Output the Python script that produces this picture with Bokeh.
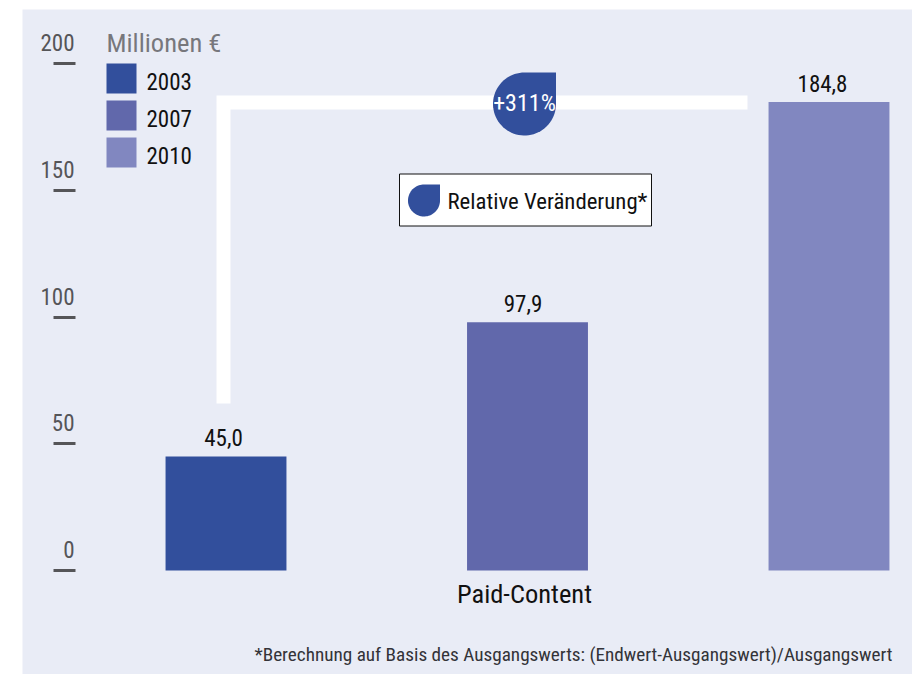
from bokeh.plotting import figure
from bokeh.models import Range1d, FixedTicker, ColumnDataSource
from bokeh.core.properties import value
from bokeh.embed import file_html
from bokeh.resources import INLINE
import numpy as np

# ---- data
years = ["2003", "2007", "2010"]
values = [45.0, 97.9, 184.8]
value_labels = ["45,0", "97,9", "184,8"]
colors = ["#324f9c", "#6168ab", "#8187c0"]
y_ticks = [0, 50, 100, 150, 200]
y_tick_labels = ["0", "50", "100", "150", "200"]
category = "Paid-Content"
change_label = "+311%"
change_key = "Relative Veränderung*"
unit_label = "Millionen €"
footnote = "*Berechnung auf Basis des Ausgangswerts: (Endwert-Ausgangswert)/Ausgangswert"

# ---- layout (page pixels -> data)
FONT = "Roboto Condensed"
PANEL = "#e9ecf6"
X0, XSTEP, Y0, YSCALE = 225.5, 301.5, 570.0, 2.535
def dx(px): return (np.asarray(px, dtype=float) - X0) / XSTEP
def dy(py): return (Y0 - np.asarray(py, dtype=float)) / YSCALE

FIG_L, FIG_T, FIG_R, FIG_B = 22, 9, 912, 674

p = figure(width=FIG_R - FIG_L, height=FIG_B - FIG_T, output_backend="svg", toolbar_location=None,
           x_range=Range1d(float(dx(FIG_L)), float(dx(FIG_R))),
           y_range=Range1d(float(dy(FIG_B)), float(dy(FIG_T))),
           min_border_left=0, min_border_right=0, min_border_top=0, min_border_bottom=0,
           margin=(FIG_T, 0, 0, FIG_L))
p.background_fill_color = PANEL
p.border_fill_color = PANEL
p.outline_line_color = None
p.grid.visible = False

# y axis inside the panel: ticks outward; labels placed on top of the ticks below
ya = p.yaxis[0]
ya.fixed_location = float(dx(75))
ya.ticker = FixedTicker(ticks=y_ticks)
ya.axis_line_color = None
ya.major_tick_out = 22
ya.major_tick_in = 0
ya.major_tick_line_width = 3
ya.major_tick_line_color = "#555558"
ya.minor_tick_line_color = None
ya.major_label_overrides = {t: "" for t in y_ticks}

# x axis inside the panel: the single category
CATEGORY_X = 0.99
xa = p.xaxis[0]
xa.fixed_location = 0
xa.ticker = FixedTicker(ticks=[CATEGORY_X])
xa.major_label_overrides = {CATEGORY_X: category}
xa.axis_line_color = None
xa.major_tick_line_color = None
xa.minor_tick_line_color = None
xa.major_label_standoff = 1
xa.major_label_text_font = FONT
xa.major_label_text_font_size = "26.5px"
xa.major_label_text_color = "#111111"

# tick labels
tick_src = ColumnDataSource(dict(x=[float(dx(74))] * len(y_ticks), y=y_ticks, t=y_tick_labels))
p.text("x", "y", text="t", source=tick_src, y_offset=-21, text_align="right", text_baseline="alphabetic",
       text_font=value(FONT), text_font_size="23px", text_color="#555558")

# white connector from first to last bar
p.line(dx([223, 223, 747]), dy([403, 102, 102]), line_color="white", line_width=14, line_join="miter")

# bars
for i, (v, c) in enumerate(zip(values, colors)):
    p.vbar(x=[i], top=[v], bottom=0, width=0.401, fill_color=c, line_color=None)

# value labels
src = ColumnDataSource(dict(x=[0, 1, 2], y=values, t=value_labels, off=[-2.5, -4.5, -6.5]))
p.text("x", "y", text="t", source=src, x_offset="off", y_offset=-19, text_align="center", text_baseline="alphabetic",
       text_font=value(FONT), text_font_size="23px", text_color="#111111")

# drop shapes
def drop(cx, cy, r):
    a = np.radians(np.linspace(0, 270, 60))
    xs = list(cx + r * np.cos(a)) + [cx + r, cx + r]
    ys = list(cy + r * np.sin(a)) + [cy - r, cy]
    return dx(xs), dy(ys)

x1, y1 = drop(524, 103.5, 31.5)
p.patch(x1, y1, fill_color=colors[0], line_color=None)
p.text([float(dx(524))], [float(dy(102))], text=[change_label], text_align="center", text_baseline="middle",
       text_font=value(FONT), text_font_size="24px", text_color="white")

# key box
p.quad(left=[float(dx(399))], right=[float(dx(651))], top=[float(dy(173.5))], bottom=[float(dy(225.5))],
       fill_color="white", line_color="#111111", line_width=1)
x2, y2 = drop(423.5, 200, 16)
p.patch(x2, y2, fill_color=colors[0], line_color=None)
p.text([float(dx(447))], [float(dy(201))], text=[change_key], text_align="left", text_baseline="middle",
       text_font=value(FONT), text_font_size="22.8px", text_color="#111111")

# legend, placed by hand so that the labels sit low against the swatches as in the reference
LEG_TOP, LEG_PITCH, LEG_SIZE = 63, 37, 30
for i, (yr, c) in enumerate(zip(years, colors)):
    top = LEG_TOP + i * LEG_PITCH
    p.quad(left=[float(dx(106))], right=[float(dx(106 + LEG_SIZE))], top=[float(dy(top))],
           bottom=[float(dy(top + LEG_SIZE))], fill_color=c, line_color=None)
    p.text([float(dx(146))], [float(dy(top + 18))], text=[yr], text_align="left", text_baseline="middle",
           text_font=value(FONT), text_font_size="23px", text_color="#111111")

p.text([float(dx(106))], [float(dy(42))], text=[unit_label], text_align="left", text_baseline="alphabetic",
       text_font=value(FONT), text_font_size="26.5px", text_color="#77777c")

# footnote
p.text([float(dx(892))], [float(dy(654))], text=[footnote], text_align="right", text_baseline="middle",
       text_font=value(FONT), text_font_size="19.2px", text_color="#333338")

open("out.html", "w").write(file_html(p, INLINE))
